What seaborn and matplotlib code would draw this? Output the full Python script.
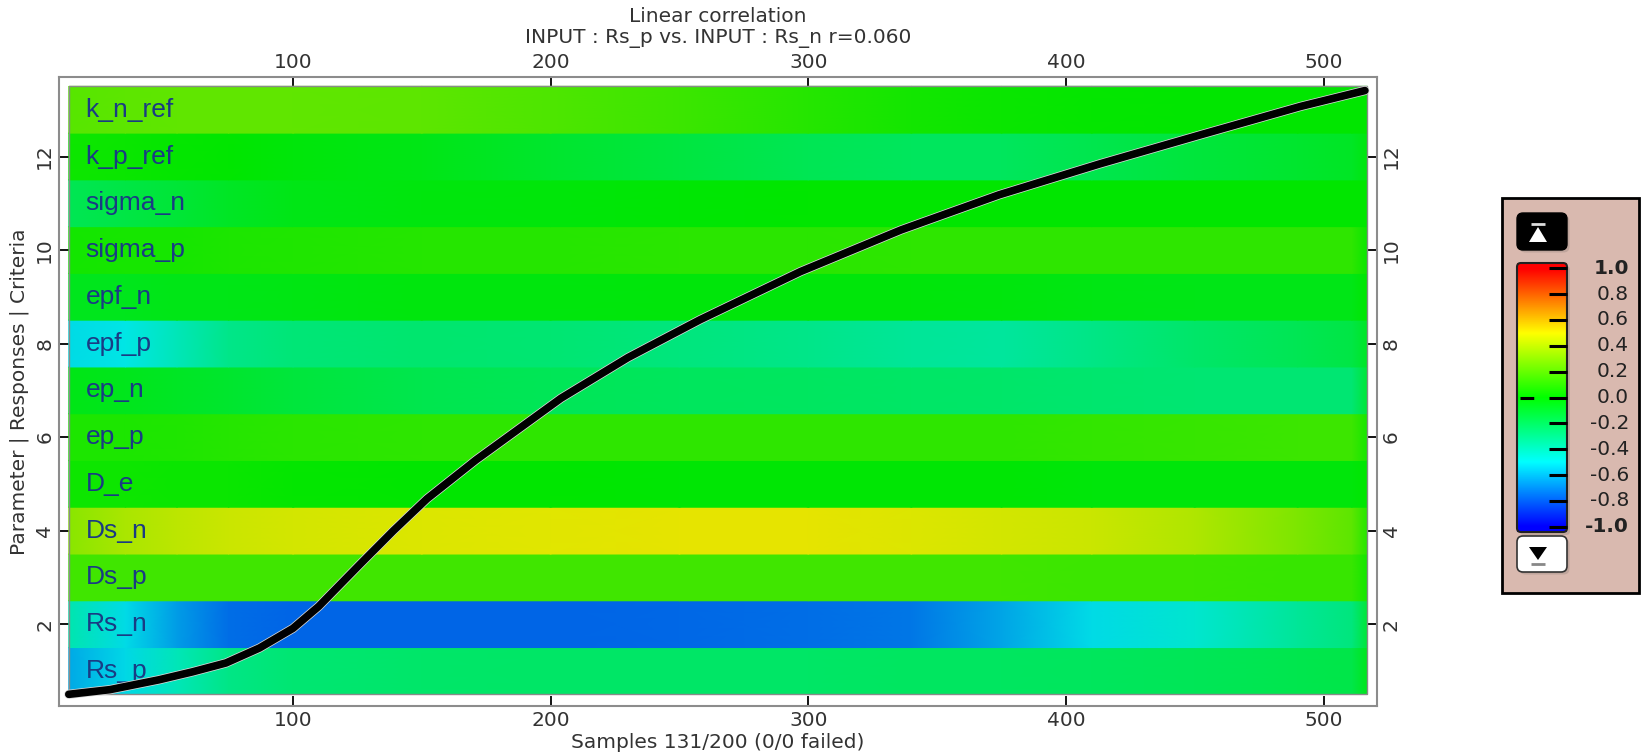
import colorsys
import numpy as np
import matplotlib
matplotlib.use("Agg")
import matplotlib.pyplot as plt
import matplotlib.patheffects as pe
from matplotlib.colors import LinearSegmentedColormap
from matplotlib.patches import Rectangle, FancyBboxPatch, Polygon
import seaborn as sns

# ---------------------------------------------------------------------------
# Data
# ---------------------------------------------------------------------------
# sample positions at which each row's running correlation is tabulated
samples = [13, 35, 55, 75, 100, 150, 200, 250, 300, 340, 375, 410, 450, 490, 511, 517]

# running linear correlation per parameter (bottom row first)
rs_p    = [-0.63, -0.53, -0.40, -0.29, -0.25, -0.23, -0.22, -0.22, -0.22, -0.21, -0.21, -0.20, -0.19, -0.17, -0.16, -0.06]
rs_n    = [-0.38, -0.52, -0.66, -0.76, -0.78, -0.78, -0.78, -0.77, -0.76, -0.74, -0.64, -0.52, -0.45, -0.33, -0.27, -0.12]
ds_p    = [0.14, 0.14, 0.14, 0.14, 0.14, 0.14, 0.14, 0.14, 0.14, 0.14, 0.14, 0.13, 0.13, 0.12, 0.12, 0.04]
ds_n    = [0.30, 0.37, 0.41, 0.44, 0.46, 0.48, 0.49, 0.50, 0.50, 0.48, 0.46, 0.44, 0.38, 0.27, 0.20, 0.08]
d_e     = [0.03, 0.03, 0.02, 0.02, 0.01, 0.00, 0.00, -0.01, -0.01, -0.01, -0.01, -0.02, -0.02, -0.02, -0.02, 0.00]
ep_p    = [0.06, 0.06, 0.07, 0.08, 0.09, 0.10, 0.10, 0.10, 0.10, 0.10, 0.10, 0.11, 0.12, 0.13, 0.13, 0.05]
ep_n    = [-0.05, -0.06, -0.08, -0.10, -0.13, -0.17, -0.19, -0.20, -0.21, -0.22, -0.23, -0.24, -0.25, -0.25, -0.25, -0.12]
epf_p   = [-0.52, -0.50, -0.40, -0.30, -0.26, -0.24, -0.25, -0.27, -0.30, -0.33, -0.34, -0.29, -0.23, -0.18, -0.15, -0.08]
epf_n   = [-0.06, -0.06, -0.05, -0.05, -0.04, -0.03, -0.03, -0.02, -0.02, -0.02, -0.03, -0.04, -0.05, -0.05, -0.05, 0.00]
sigma_p = [0.04, 0.05, 0.05, 0.06, 0.07, 0.08, 0.08, 0.09, 0.09, 0.10, 0.10, 0.10, 0.10, 0.10, 0.10, 0.02]
sigma_n = [-0.18, -0.15, -0.12, -0.08, -0.05, -0.03, -0.02, -0.01, 0.00, 0.00, 0.00, 0.00, 0.00, 0.00, 0.00, 0.00]
k_p_ref = [0.03, 0.02, 0.01, 0.00, -0.02, -0.05, -0.10, -0.14, -0.18, -0.20, -0.20, -0.17, -0.13, -0.10, -0.08, -0.03]
k_n_ref = [0.19, 0.20, 0.21, 0.21, 0.21, 0.20, 0.17, 0.13, 0.08, 0.04, 0.02, 0.01, 0.00, 0.00, 0.00, 0.00]

row_names = ["Rs_p", "Rs_n", "Ds_p", "Ds_n", "D_e", "ep_p", "ep_n",
             "epf_p", "epf_n", "sigma_p", "sigma_n", "k_p_ref", "k_n_ref"]
row_values = [rs_p, rs_n, ds_p, ds_n, d_e, ep_p, ep_n,
              epf_p, epf_n, sigma_p, sigma_n, k_p_ref, k_n_ref]

# convergence curve of the sampling run
curve_x = [13, 29, 48, 61, 74, 87, 100, 110, 126, 139, 152, 171, 204, 230,
           258, 297, 336, 374, 413, 452, 491, 516]
curve_y = [0.50, 0.60, 0.81, 0.98, 1.17, 1.49, 1.91, 2.38, 3.28, 4.00, 4.68,
           5.51, 6.83, 7.70, 8.51, 9.54, 10.43, 11.18, 11.84, 12.46, 13.07, 13.41]

x_ticks = [100, 200, 300, 400, 500]
y_ticks = [2, 4, 6, 8, 10, 12]
cbar_ticks = [1.0, 0.8, 0.6, 0.4, 0.2, 0.0, -0.2, -0.4, -0.6, -0.8, -1.0]

title_lines = ["Linear correlation", "INPUT : Rs_p vs. INPUT : Rs_n r=0.060"]
x_label = "Samples 131/200 (0/0 failed)"
y_label = "Parameter | Responses | Criteria"

# ---------------------------------------------------------------------------
# Style
# ---------------------------------------------------------------------------
sns.set_theme(style="white")
plt.rcParams["font.family"] = ["DejaVu Sans"]

W, H = 1641, 756
fig = plt.figure(figsize=(W / 100, H / 100), dpi=100)
fig.patch.set_facecolor("white")


def hue_map(value_scale):
    hues = np.linspace(240, 0, 9)
    cols = [colorsys.hsv_to_rgb(h / 360.0, 1.0, value_scale) for h in hues]
    return LinearSegmentedColormap.from_list("corr", cols, N=512)


heat_cmap = hue_map(0.90)
bar_cmap = hue_map(1.0)

# ---------------------------------------------------------------------------
# Main axes
# ---------------------------------------------------------------------------
ax_l, ax_r, ax_t, ax_b = 59, 1377, 77, 706
ax = fig.add_axes([ax_l / W, (H - ax_b) / H, (ax_r - ax_l) / W, (ax_b - ax_t) / H])
ax.set_facecolor("white")

xs = np.asarray(samples, dtype=float)
for i, vals in enumerate(row_values):
    X = np.vstack([xs, xs])
    Y = np.vstack([np.full_like(xs, i + 0.5), np.full_like(xs, i + 1.5)])
    C = np.vstack([vals, vals])
    ax.pcolormesh(X, Y, C, shading="gouraud", cmap=heat_cmap, vmin=-1, vmax=1,
                  antialiased=False, zorder=1)
    ax.text(19.5, i + 1, row_names[i], color="#1a3b84", fontsize=19,
            family=["Liberation Sans", "DejaVu Sans"], va="center", ha="left",
            zorder=3)

ax.add_patch(Rectangle((samples[0], 0.5), samples[-1] - samples[0], len(row_names),
                       fill=False, edgecolor="#8a8a8a", linewidth=1.0, zorder=2))

sns.lineplot(x=curve_x, y=curve_y, ax=ax, color="black", linewidth=5.5,
             sort=False, estimator=None, zorder=5,
             solid_joinstyle="round", solid_capstyle="round",
             path_effects=[pe.Stroke(linewidth=6.6, foreground="#d8d8d8",
                                     joinstyle="round"), pe.Normal()])

ax.set_xlim(9.2, 520.7)
ax.set_ylim(0.25, 13.7)
ax.set_xticks(x_ticks)
ax.set_yticks(y_ticks)
ax.set_xlabel("")
ax.set_ylabel("")
ax.tick_params(which="major", direction="in", length=7, width=1.3, color="black",
               labelsize=14.5, labelcolor="#333333", top=True, right=True,
               labeltop=True, labelright=True, bottom=True, left=True, pad=3.5)
ax.tick_params(axis="y", labelrotation=90)
for t in ax.yaxis.get_major_ticks():
    t.label1.set_va("center")
    t.label2.set_va("center")
for s in ax.spines.values():
    s.set_color("#8c8c8c")
    s.set_linewidth(1.5)
    s.set_visible(True)

cx = (ax_l + ax_r) / 2 / W
fig.text(cx, 1 - 17 / H, title_lines[0], ha="center", va="center", fontsize=14.5, color="#333333")
fig.text(cx, 1 - 39 / H, title_lines[1], ha="center", va="center", fontsize=14.5, color="#333333")
fig.text(cx, 1 - 742 / H, x_label, ha="center", va="center", fontsize=14.5, color="#333333")
fig.text(19 / W, 1 - 392 / H, y_label, ha="center", va="center", rotation=90,
         fontsize=14.5, color="#333333")

# ---------------------------------------------------------------------------
# Colour scale panel
# ---------------------------------------------------------------------------
p_l, p_r, p_t, p_b = 1502, 1639, 198, 593
pw, ph = p_r - p_l, p_b - p_t
cax = fig.add_axes([p_l / W, (H - p_b) / H, pw / W, ph / H])
cax.set_xlim(0, pw)
cax.set_ylim(ph, 0)
cax.axis("off")

cax.add_patch(Rectangle((0, 0), pw, ph, facecolor="#d9b9af", edgecolor="black",
                        linewidth=2, clip_on=False, zorder=0))

shadow = "#bfa59c"
# up button
cax.add_patch(FancyBboxPatch((17.5, 17.5), 50, 37, boxstyle="round,pad=0,rounding_size=6",
                             facecolor=shadow, edgecolor="none", zorder=1))
cax.add_patch(FancyBboxPatch((15, 15), 50, 37, boxstyle="round,pad=0,rounding_size=6",
                             facecolor="black", edgecolor="black", zorder=2))
cax.add_patch(Polygon([(27, 44), (45, 44), (36, 29)], closed=True, facecolor="white",
                      edgecolor="none", zorder=3))
cax.plot([29, 43], [25.5, 25.5], color="#dddddd", linewidth=2, zorder=3,
         solid_capstyle="butt")

# gradient bar
bar_top, bar_bot = 65, 334
tick_top, tick_bot = 70.3, 328.7
cax.add_patch(FancyBboxPatch((18, bar_top + 3), 50, bar_bot - bar_top,
                             boxstyle="round,pad=0,rounding_size=4",
                             facecolor=shadow, edgecolor="none", zorder=1))
span = (tick_bot - tick_top) / 2.0
v_top = (199.5 - bar_top) / span
grad = np.linspace(v_top, -v_top, 400).reshape(-1, 1)
cax.imshow(grad, extent=(15, 65, bar_bot, bar_top), origin="upper", aspect="auto",
           cmap=bar_cmap, vmin=-1, vmax=1, zorder=2, interpolation="bilinear")
cax.add_patch(FancyBboxPatch((15, bar_top), 50, bar_bot - bar_top,
                             boxstyle="round,pad=0,rounding_size=4",
                             facecolor="none", edgecolor="#222222", linewidth=1.5, zorder=3))

mid = (tick_top + tick_bot) / 2.0
for v in cbar_ticks:
    y = mid - v * span
    cax.plot([47, 65], [y, y], color="black", linewidth=2.2, zorder=4, solid_capstyle="butt")
    bold = abs(abs(v) - 1.0) < 1e-9
    cax.text(127, y, f"{v:.1f}", ha="right", va="center", fontsize=14.5,
             fontweight="bold" if bold else "normal", color="#222222", zorder=4)
cax.plot([18, 47], [mid, mid], color="black", linewidth=2.2, zorder=4,
         linestyle=(0, (4.5, 6.5)))

# down button
cax.add_patch(FancyBboxPatch((17.5, 340.5), 50, 36, boxstyle="round,pad=0,rounding_size=6",
                             facecolor=shadow, edgecolor="none", zorder=1))
cax.add_patch(FancyBboxPatch((15, 338), 50, 36, boxstyle="round,pad=0,rounding_size=6",
                             facecolor="white", edgecolor="#333333", linewidth=1.2, zorder=2))
cax.add_patch(Polygon([(27, 349), (45, 349), (36, 362)], closed=True, facecolor="black",
                      edgecolor="none", zorder=3))
cax.plot([29, 43], [365.5, 365.5], color="#888888", linewidth=2, zorder=3,
         solid_capstyle="butt")

fig.savefig("out.png", dpi=100, facecolor="white")
